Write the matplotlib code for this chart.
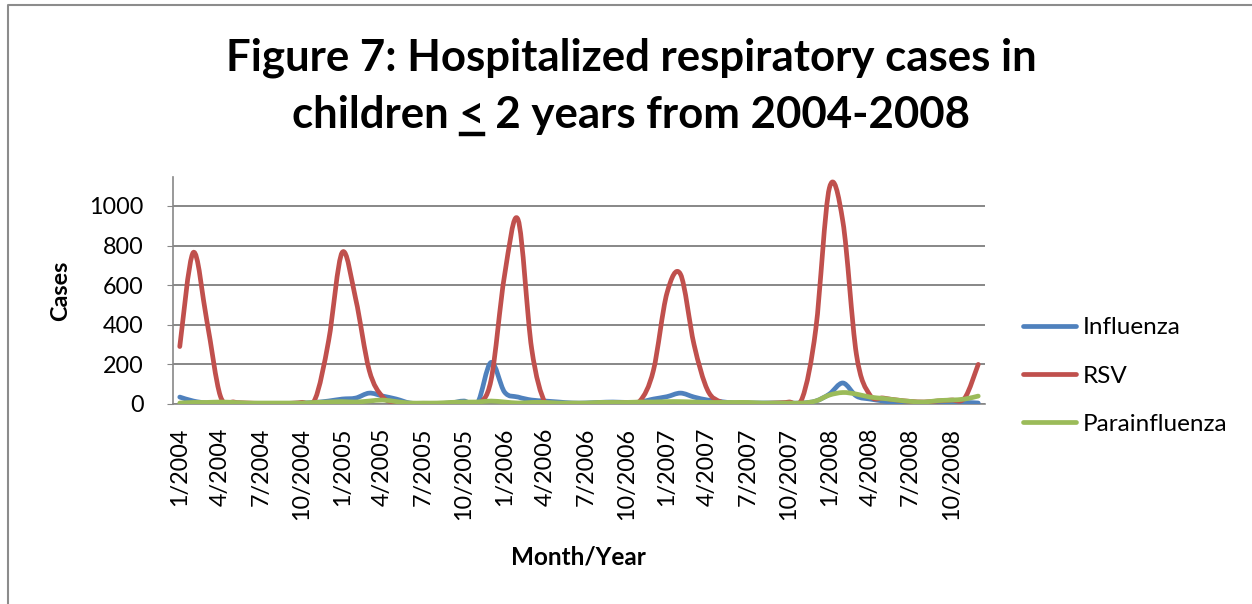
import matplotlib
matplotlib.use("Agg")
import matplotlib.pyplot as plt
from matplotlib.path import Path
from matplotlib.patches import PathPatch
from matplotlib.lines import Line2D


# =========================================================
# Data (monthly, 1/2004 - 12/2008)
# =========================================================

months = [
    f"{m}/{y}"
    for y in range(2004, 2009)
    for m in range(1, 13)
]

influenza = [
    35, 15, 5, 5, 5, 3, 3, 3, 3, 5, 8, 15,
    25, 30, 55, 40, 25, 5, 3, 3, 5, 15, 5, 210,
    60, 35, 20, 15, 10, 5, 5, 8, 10, 8, 10, 25,
    37, 55, 35, 20, 12, 5, 5, 5, 5, 5, 5, 15,
    50, 106, 40, 25, 15, 5, 2, 2, 5, 8, 8, 5,
]

rsv = [
    290, 765, 420, 40, 10, 5, 3, 2, 3, 8, 25, 320,
    765, 530, 170, 35, 8, 3, 2, 2, 3, 5, 0, 120,
    650, 930, 280, 5, 3, 2, 3, 3, 5, 8, 15, 170,
    560, 655, 300, 70, 10, 3, 2, 3, 5, 10, 30, 380,
    1090, 920, 250, 45, 30, 20, 13, 10, 15, 20, 30, 200,
]

parainfluenza = [
    5, 8, 8, 10, 8, 5, 5, 5, 5, 5, 8, 10,
    12, 10, 15, 20, 12, 5, 5, 5, 8, 10, 10, 15,
    10, 5, 8, 8, 5, 5, 5, 8, 8, 8, 10, 10,
    12, 12, 10, 8, 8, 8, 8, 5, 5, 5, 5, 15,
    45, 58, 50, 35, 28, 20, 13, 10, 17, 20, 25, 40,
]

series_names = ["Influenza", "RSV", "Parainfluenza"]
series_colors = ["#4F81BD", "#C0504D", "#9BBB59"]

y_ticks = [0, 200, 400, 600, 800, 1000]

FONT = "Lato"
GRID = "#878787"
TICK_SIZE = 16.8


# =========================================================
# Helpers
# =========================================================

def smooth_path(values):

    # Excel style "smoothed line": Catmull-Rom as cubic Bezier
    pts = list(enumerate(values))
    n = len(pts)

    verts = [pts[0]]
    codes = [Path.MOVETO]

    for i in range(n - 1):

        p0 = pts[max(i - 1, 0)]
        p1 = pts[i]
        p2 = pts[i + 1]
        p3 = pts[min(i + 2, n - 1)]

        c1 = (
            p1[0] + (p2[0] - p0[0]) / 6,
            p1[1] + (p2[1] - p0[1]) / 6
        )
        c2 = (
            p2[0] - (p3[0] - p1[0]) / 6,
            p2[1] - (p3[1] - p1[1]) / 6
        )

        verts += [c1, c2, p2]
        codes += [Path.CURVE4] * 3

    return Path(verts, codes)


# =========================================================
# Figure
# =========================================================

fig = plt.figure(figsize=(12.52, 6.04), dpi=100)

ax = fig.add_axes([173 / 1252, 1 - 404 / 604, 812 / 1252, 227 / 604])

for vals, color in zip([influenza, rsv, parainfluenza], series_colors):

    ax.add_patch(
        PathPatch(
            smooth_path(vals),
            fill=False,
            edgecolor=color,
            lw=3.4,
            capstyle="round",
            joinstyle="round",
            zorder=3
        )
    )

ax.set_xlim(-0.5, len(months) - 0.5)
ax.set_ylim(0, 1146)

ax.set_yticks(y_ticks)
ax.set_yticklabels([str(v) for v in y_ticks], fontsize=TICK_SIZE, family=FONT)

ax.set_xticks(range(0, len(months), 3))
ax.set_xticklabels(
    months[::3],
    rotation=90,
    fontsize=TICK_SIZE,
    family=FONT,
    va="top"
)

ax.tick_params(axis="x", length=0, pad=17)
ax.tick_params(axis="y", length=4, color=GRID, pad=17)

ax.grid(axis="y", color=GRID, lw=1.4)
ax.set_axisbelow(True)

for side in ["top", "right"]:
    ax.spines[side].set_visible(False)

ax.spines["left"].set_color(GRID)
ax.spines["bottom"].set_color(GRID)
ax.spines["left"].set_linewidth(1.2)
ax.spines["bottom"].set_linewidth(1.2)

ax.set_ylabel("Cases", fontsize=TICK_SIZE, family=FONT, weight="bold", labelpad=13)

fig.text(
    578 / 1252, 1 - 557 / 604,
    "Month/Year",
    ha="center", va="center",
    fontsize=17.5, family=FONT, weight="bold"
)

# legend
handles = [
    Line2D([], [], color=c, lw=3.4, solid_capstyle="round")
    for c in series_colors
]

fig.legend(
    handles,
    series_names,
    loc="center left",
    bbox_to_anchor=(1001 / 1252, 1 - 376 / 604),
    frameon=False,
    prop={"family": FONT, "size": 17.5},
    handlelength=2.2,
    handletextpad=0.25,
    labelspacing=1.12
)

# title, two lines, with underlined "<"
title_kw = dict(ha="center", va="baseline", fontsize=31.5, family=FONT, weight="bold")

line1 = "Figure 7: Hospitalized respiratory cases in"
line2 = "children < 2 years from 2004-2008"

fig.text(631 / 1252, 1 - 71 / 604, line1, **title_kw)
t2 = fig.text(631 / 1252, 1 - 128 / 604, line2, **title_kw)

fig.canvas.draw()
r = fig.canvas.get_renderer()

bb = t2.get_window_extent(r)

tmp = fig.text(0, 0, "children <", **title_kw)
w1 = tmp.get_window_extent(r).width
tmp.remove()

tmp = fig.text(0, 0, "<", **title_kw)
w2 = tmp.get_window_extent(r).width
tmp.remove()

base = 604 - 128
ux0 = bb.x0 + w1 - w2 + 2
ux1 = bb.x0 + w1 - 2

fig.add_artist(
    Line2D(
        [ux0 / 1252, ux1 / 1252],
        [(base - 6) / 604, (base - 6) / 604],
        color="black", lw=3.2,
        transform=fig.transFigure
    )
)

# chart border (left and top)
fig.add_artist(
    Line2D(
        [8 / 1252, 8 / 1252, 1.0],
        [0.0, 1 - 5 / 604, 1 - 5 / 604],
        color="#8c8c8c", lw=1.5,
        transform=fig.transFigure
    )
)

fig.savefig("out.png", dpi=100)
